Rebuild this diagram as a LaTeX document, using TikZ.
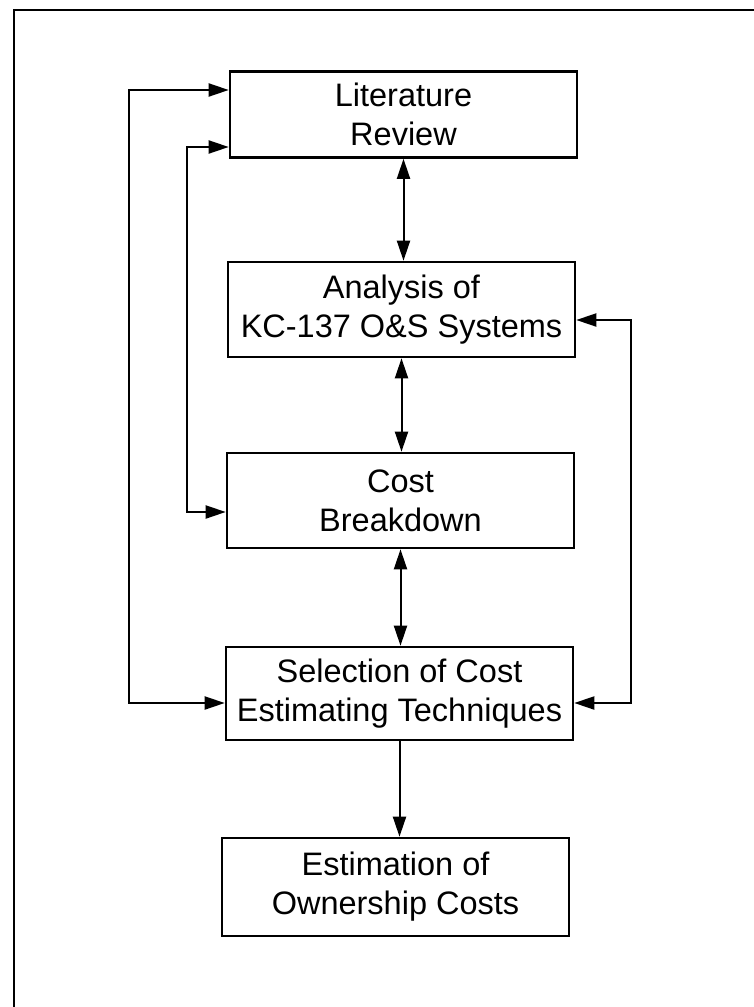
\documentclass[tikz,border=0pt]{standalone}
\usepackage{fontspec}
\setmainfont{Liberation Sans}
\usetikzlibrary{arrows.meta}
\begin{document}
\begin{tikzpicture}[x=1pt,y=-1pt,
  stepbox/.style={draw,line width=2.6pt,minimum width=347pt,inner sep=0pt,
    align=center,font=\fontsize{32.5}{39}\selectfont},
  link/.style={line width=2pt,{Triangle[length=20pt,width=13pt]}-{Triangle[length=20pt,width=13pt]}},
  onelink/.style={line width=2pt,-{Triangle[length=20pt,width=13pt]}}]
\useasboundingbox (0,0) rectangle (754,1007);
% outer frame (right and bottom sides run past the page)
\draw[line width=2.6pt] (14,1007) -- (14,10) -- (754,10);

% process steps
\node[stepbox,minimum height=86pt] (lit) at (403.5,114.5) {Literature\\Review};
\node[stepbox,minimum height=95pt] (ana) at (401.5,309.5) {Analysis of\\KC-137 O\&S Systems};
\node[stepbox,minimum height=95pt] (cost) at (400.5,500.5) {Cost\\Breakdown};
\node[stepbox,minimum height=93pt] (sel) at (399.5,693.5) {Selection of Cost\\Estimating Techniques};
\node[stepbox,minimum height=98pt] (est) at (395.5,887) {Estimation of\\Ownership Costs};

% vertical flow
\draw[link] (lit.south) -- (lit.south |- ana.north);
\draw[link] (ana.south) -- (ana.south |- cost.north);
\draw[link] (cost.south) -- (cost.south |- sel.north);
\draw[onelink] (sel.south) -- (sel.south |- est.north);

% feedback loops
\draw[link] ([yshift=24.5pt]lit.west) -- ++(-100,0) |- ([yshift=-9.5pt]sel.west);
\draw[link] ([yshift=-32.5pt]lit.west) -- ++(-42,0) |- ([yshift=-11.5pt]cost.west);
\draw[link] ([yshift=-10.5pt]ana.east) -- ++(55,0) |- ([yshift=-9.5pt]sel.east);
\end{tikzpicture}
\end{document}
